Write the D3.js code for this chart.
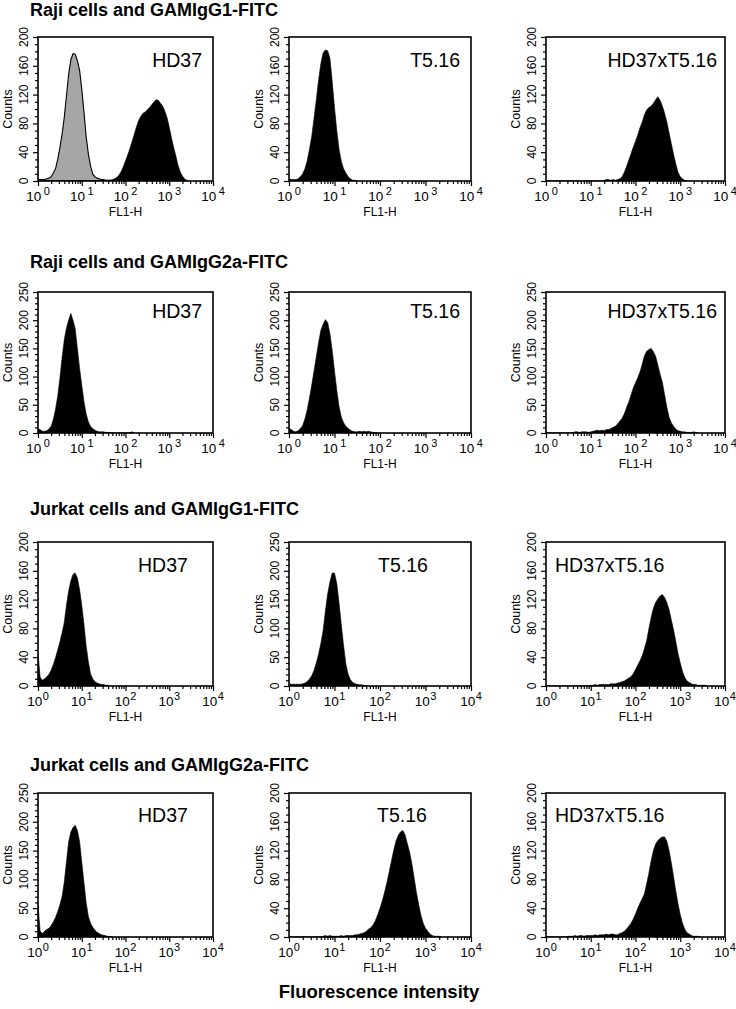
<!DOCTYPE html>
<html><head><meta charset="utf-8">
<script src="https://cdn.jsdelivr.net/npm/d3@7"></script>
<style>
body{margin:0;background:#fff}
svg{display:block}
text{font-family:"Liberation Sans",Arial,Helvetica,sans-serif;fill:#000}
</style>
</head><body>
<svg id="chart" width="736" height="1009"></svg>
<script>
// ---------------- DATA ----------------
// Each histogram: counts per channel, channel i sits at log10(FL1-H) = i * BIN_STEP
const BIN_STEP = 0.05;
const rowTitles = ["Raji cells and GAMIgG1-FITC","Raji cells and GAMIgG2a-FITC","Jurkat cells and GAMIgG1-FITC","Jurkat cells and GAMIgG2a-FITC"];
const panelLabels = ["HD37","T5.16","HD37xT5.16"];
const yMaxByPanel = [[200,200,200],[250,250,250],[200,250,200],[250,200,200]];
const yMajorStep = {200:40, 250:50};
const yMinorStep = 10;
const xTickExponents = [0,1,2,3,4];
const xMinorMultipliers = [2,3,4,5,6,7,8,9];
const xAxisTitle = "FL1-H";
const yAxisTitle = "Counts";
const figureCaption = "Fluorescence intensity";

// Raji, GAMIgG1-FITC
const rajiG1Control = [2,2,2,2,3,4,6,11,17,30, 46,65,88,118,148,168,177,176,167,154, 128,96,62,38,21,10,6,4,3,2, 2,1,1,1,0];
const rajiG1HD37 = [0,0,0,0,0,0,0,0,0,0, 0,0,0,0,0,0,0,0,0,0, 0,0,0,0,0,0,0,0,0,0, 1,1,1,1,2,3,5,8,13,20, 28,36,45,55,65,75,84,90,94,96, 99,102,106,110,113,112,108,104,97,88, 75,60,47,35,22,13,7,3,1,0];
const rajiG1T516 = [3,2,2,2,3,6,10,17,28,44, 62,87,113,140,163,178,182,181,170,138, 102,70,44,27,17,11,6,3,1,1, 0];
const rajiG1HDxT = [0,0,0,0,0,0,0,0,0,0, 0,0,0,0,0,0,0,0,0,0, 0,0,0,0,0,0,1,2,2,1, 2,1,2,3,6,12,20,29,38,47, 55,64,74,82,92,99,102,104,108,113, 117,112,104,94,82,67,52,37,24,12, 6,3,1,0];
// Raji, GAMIgG2a-FITC
const rajiG2aHD37 = [7,6,3,3,4,7,12,24,42,65, 97,133,165,186,200,212,200,185,150,115, 85,56,34,20,12,8,5,3,2,2, 2,1,1,1,0,0,0,0,0,0, 0,0,1,2,0];
const rajiG2aT516 = [8,6,3,2,4,8,13,25,41,62, 85,110,135,160,182,193,201,196,176,146, 110,76,47,28,18,12,8,5,3,2, 2,3,2,3,2,3,2,1,1,0];
const rajiG2aHDxT = [0,0,0,0,0,0,0,0,0,0, 0,0,1,2,2,1,2,2,2,1, 2,3,4,5,4,5,4,6,6,8, 10,12,16,21,26,34,45,55,67,80, 89,98,108,122,137,145,148,150,144,136, 120,104,90,68,46,28,18,12,7,4, 3,2,2,1,1,1,2,1,0];
// Jurkat, GAMIgG1-FITC
const jurkatG1HD37 = [45,12,8,10,13,16,22,30,39,50, 61,74,88,112,132,146,155,157,150,134, 112,86,56,34,17,10,6,4,3,2, 2,1,1,0];
const jurkatG1T516 = [4,3,3,3,3,3,4,5,8,12, 18,27,40,55,74,96,130,160,181,196, 196,178,144,106,70,38,20,11,6,4, 3,2,2,1,0];
const jurkatG1HDxT = [0,0,0,0,0,0,0,0,0,0, 0,0,0,0,0,0,0,0,0,0, 1,1,2,1,2,2,2,2,2,3, 3,3,4,5,6,7,9,11,13,17, 23,29,35,42,52,63,80,95,108,116, 121,125,127,123,116,106,92,78,62,45, 32,20,12,7,5,3,2,2,1,1, 1,1,0];
// Jurkat, GAMIgG2a-FITC
const jurkatG2aHD37 = [55,10,6,10,13,15,20,26,34,44, 56,70,95,130,165,182,190,194,185,166, 130,95,60,36,24,17,12,8,6,4, 3,2,1,1,0];
const jurkatG2aT516 = [0,0,0,0,0,0,0,0,0,0, 0,0,0,0,0,1,2,1,2,1, 1,1,1,2,1,2,2,2,2,3, 3,4,5,6,8,11,13,17,23,31, 40,50,62,75,90,105,120,133,141,146, 148,142,130,118,102,82,62,45,30,19, 12,8,4,2,1,1,1,0];
const jurkatG2aHDxT = [0,0,0,0,0,0,0,0,0,0, 1,1,1,2,1,2,2,1,2,2, 2,2,3,2,3,3,3,4,3,4, 4,3,3,5,6,8,11,15,19,25, 32,40,47,53,60,74,89,106,120,129, 134,137,139,139,133,120,103,84,64,46, 31,19,11,6,4,2,1,1,1,0];

// which histograms go in which panel: {data, fill}
const panelSeries = [
  [[{data:rajiG1Control, fill:"#a6a6a6"},{data:rajiG1HD37, fill:"#000"}], [{data:rajiG1T516, fill:"#000"}], [{data:rajiG1HDxT, fill:"#000"}]],
  [[{data:rajiG2aHD37, fill:"#000"}], [{data:rajiG2aT516, fill:"#000"}], [{data:rajiG2aHDxT, fill:"#000"}]],
  [[{data:jurkatG1HD37, fill:"#000"}], [{data:jurkatG1T516, fill:"#000"}], [{data:jurkatG1HDxT, fill:"#000"}]],
  [[{data:jurkatG2aHD37, fill:"#000"}], [{data:jurkatG2aT516, fill:"#000"}], [{data:jurkatG2aHDxT, fill:"#000"}]]
];

// ---------------- LAYOUT ----------------
const colLeft = [38, 289, 546];
const colWidth = [175, 182, 179];
const rowTop = [37, 292, 542, 793];
const rowBottom = [181, 433, 686, 937];
const titleBaseline = [16, 268, 515, 771];
const titleX = 30;
const labelPlacement = [
  [[202,"end"],[460,"end"],[717,"end"]],
  [[202,"end"],[460,"end"],[717,"end"]],
  [[138,"start"],[378,"start"],[555,"start"]],
  [[138,"start"],[377,"start"],[555,"start"]]
];
const labelBaseline = [67, 318, 572, 822];

const svg = d3.select("#chart");

rowTitles.forEach((t, r) => {
  svg.append("text").attr("x", titleX).attr("y", titleBaseline[r])
    .attr("font-size", 18).attr("font-weight", "bold").text(t);
});

svg.append("text").attr("x", 379).attr("y", 998).attr("text-anchor", "middle")
  .attr("font-size", 18.5).attr("font-weight", "bold").text(figureCaption);

for (let r = 0; r < 4; r++) {
  for (let c = 0; c < 3; c++) {
    const L = colLeft[c], R = colLeft[c] + colWidth[c], T = rowTop[r], B = rowBottom[r];
    const ymax = yMaxByPanel[r][c];
    const x = d3.scaleLog().domain([1, 1e4]).range([L, R]);
    const y = d3.scaleLinear().domain([0, ymax]).range([B, T]);
    const g = svg.append("g");
    const clipId = `clip-${r}-${c}`;
    g.append("clipPath").attr("id", clipId).append("rect")
      .attr("x", L).attr("y", T).attr("width", R - L).attr("height", B - T);

    const area = d3.area()
      .x((d, i) => x(Math.pow(10, i * BIN_STEP)))
      .y0(y(0)).y1(d => y(d))
      .curve(d3.curveLinear);

    const plot = g.append("g").attr("clip-path", `url(#${clipId})`);
    panelSeries[r][c].forEach(s => {
      plot.append("path").datum(s.data).attr("d", area)
        .attr("fill", s.fill)
        .attr("stroke", "#000").attr("stroke-width", s.fill === "#000" ? 0.6 : 1.1)
        .attr("stroke-linejoin", "round");
    });

    g.append("rect").attr("x", L).attr("y", T).attr("width", R - L).attr("height", B - T)
      .attr("fill", "none").attr("stroke", "#000").attr("stroke-width", 1.6);

    const xAxisMajor = d3.axisBottom(x).tickValues(xTickExponents.map(e => Math.pow(10, e)))
      .tickSize(5).tickFormat("");
    const minorVals = [];
    xTickExponents.slice(0, -1).forEach(e => xMinorMultipliers.forEach(m => minorVals.push(m * Math.pow(10, e))));
    const xAxisMinor = d3.axisBottom(x).tickValues(minorVals).tickSize(3).tickFormat("");
    [xAxisMajor, xAxisMinor].forEach(ax => {
      const a = g.append("g").attr("transform", `translate(0,${B})`).call(ax);
      a.select(".domain").remove();
      a.selectAll("line").attr("stroke", "#000").attr("stroke-width", 1.2);
    });

    const tight = r >= 2;
    xTickExponents.forEach(e => {
      const t = g.append("text").attr("x", x(Math.pow(10, e))).attr("y", B + 20)
        .attr("text-anchor", "middle").attr("font-size", 13.5);
      t.append("tspan").text("10");
      t.append("tspan").attr("dx", tight ? 0.5 : 2.5).attr("dy", -6).attr("font-size", 11).text(String(e));
    });

    g.append("text").attr("x", (L + R) / 2).attr("y", B + 35).attr("text-anchor", "middle")
      .attr("font-size", 12).text(xAxisTitle);

    const yMajor = d3.range(0, ymax + 1, yMajorStep[ymax]);
    const yMinor = d3.range(0, ymax + 1, yMinorStep).filter(v => v % yMajorStep[ymax] !== 0);
    [[yMajor, 5], [yMinor, 3]].forEach(([vals, size]) => {
      const a = g.append("g").attr("transform", `translate(${L},0)`)
        .call(d3.axisLeft(y).tickValues(vals).tickSize(size).tickFormat(""));
      a.select(".domain").remove();
      a.selectAll("line").attr("stroke", "#000").attr("stroke-width", 1.2);
    });
    yMajor.forEach(v => {
      g.append("text").attr("transform", `translate(${L - 10},${y(v)}) rotate(-90)`)
        .attr("text-anchor", "middle").attr("font-size", 12).text(String(v));
    });
    g.append("text").attr("transform", `translate(${L - 26},${(T + B) / 2}) rotate(-90)`)
      .attr("text-anchor", "middle").attr("font-size", 12.5).text(yAxisTitle);

    const [lx, anchor] = labelPlacement[r][c];
    g.append("text").attr("x", lx).attr("y", labelBaseline[r]).attr("text-anchor", anchor)
      .attr("font-size", 19.5).text(panelLabels[c]);
  }
}
</script>
</body></html>
